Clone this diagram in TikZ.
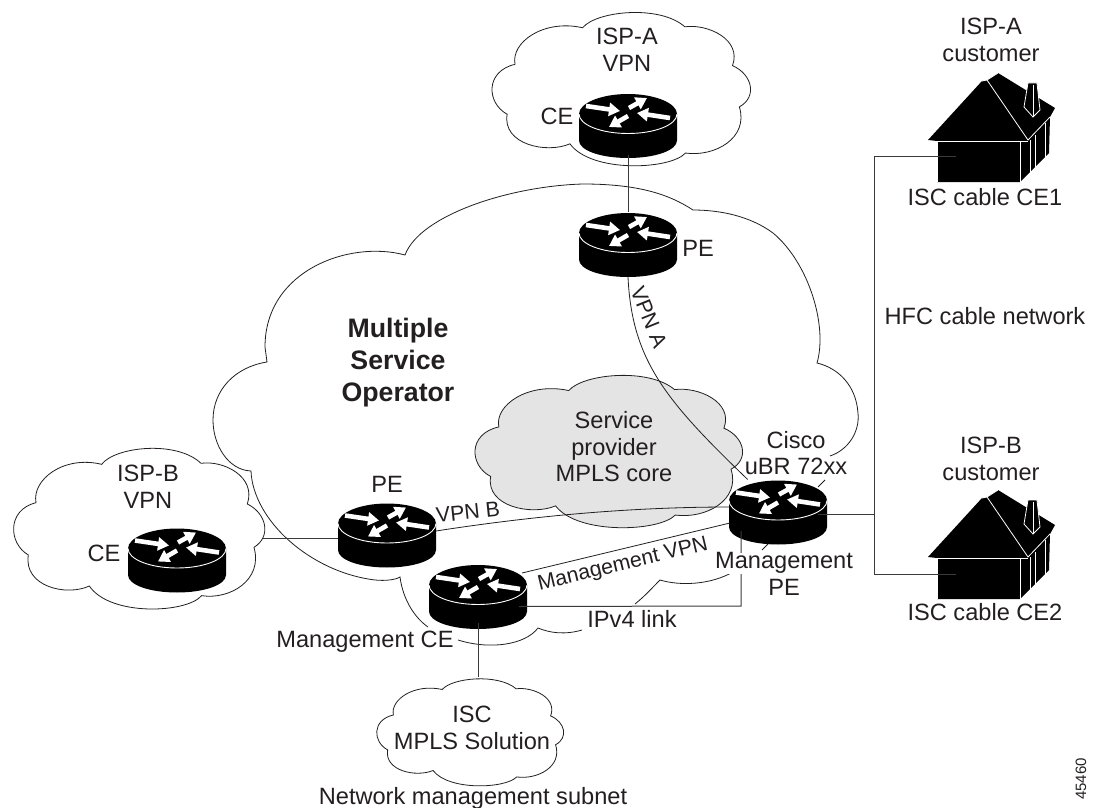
\documentclass[tikz,border=0pt]{standalone}
\usepackage{fontspec}
\setmainfont{Liberation Sans}
\usetikzlibrary{arrows.meta}
\definecolor{ink}{HTML}{231F20}
\definecolor{core}{HTML}{E4E4E4}
\definecolor{wire}{HTML}{3A3A3A}
\newcommand{\txtfont}{\fontsize{23.6}{26.5}\selectfont}
\newcommand{\smfont}{\fontsize{21.3}{26}\selectfont}
\newcommand{\cloudpath}{(108,218) .. controls (95,150) and (190,75) .. (305,103)
  .. controls (345,50) and (530,30) .. (603,100)
  .. controls (670,90) and (770,140) .. (742,222)
  .. controls (800,250) and (815,320) .. (762,352)
  .. controls (790,450) and (690,510) .. (605,497)
  .. controls (560,550) and (330,560) .. (268,468)
  .. controls (200,500) and (70,470) .. (85,375)
  .. controls (25,340) and (20,240) .. (108,218) -- cycle}
\newcommand{\routerat}[3]{%
  \node[routerbox] (#1) at (#2,#3) {};
  \begin{scope}[shift={(#2,#3)}]
    \fill[black] (-49,-11.5) .. controls (-49,-22.3) and (-27,-31.5) .. (0,-31.5)
      .. controls (27,-31.5) and (49,-22.3) .. (49,-11.5) -- (49,15)
      .. controls (49,25) and (27,32.5) .. (0,32.5)
      .. controls (-27,32.5) and (-49,25) .. (-49,15) -- cycle;
    \draw[white,line width=0.9pt] (-49,-11.5) .. controls (-49,-0.7) and (-27,8) .. (0,8)
      .. controls (27,8) and (49,-0.7) .. (49,-11.5);
    \draw[rarrow] (-42,-19.5) -- (-8,-14.5);
    \draw[rarrow] (1,-17.5) -- (19,-27.5);
    \draw[rarrow] (42,-7.5) -- (9,-12.5);
    \draw[rarrow] (0,-9.5) -- (-19,1.5);
  \end{scope}}
\newcommand{\houseat}[2]{%
  \begin{scope}[shift={(#1,#2)}]
    \fill[black] (928,140) -- (982,81) -- (987,80) -- (998,73) -- (1055,108) -- (1050,117)
      -- (1049,153) -- (1020,182) -- (937,182) -- (937,141) -- cycle;
    \draw[hline] (937,182) -- (937,141) -- (1020,141) -- (1020,182);
    \draw[hline] (928,141) -- (1028,141);
    \draw[hline] (982,81) -- (987,80) -- (1028,140) -- (1050,117);
    \draw[hline] (987,80) -- (998,73);
    \draw[hline] (1030,140) -- (1030,173);
    \draw[hline] (1035,135) -- (1035,173);
    \draw[hline] (1045,123) -- (1045,160);
    \filldraw[hline,fill=black] (1028,83) -- (1037,83) -- (1040,110) -- (1033,117) -- (1024,107) -- cycle;
    \draw[hline] (1033,85) -- (1033,117);
  \end{scope}}
\tikzset{
  routerbox/.style={minimum width=98pt,minimum height=65pt,inner sep=0pt,outer sep=0pt},
  rarrow/.style={white,line width=4.6pt,-{Triangle[length=11pt,width=13pt]}},
  hline/.style={white,line width=0.8pt},
  cloudline/.style={ink,line width=0.8pt},
  link/.style={wire,line width=1pt},
  lbl/.style={text=ink,font=\txtfont,align=center,inner sep=0pt},
}
\begin{document}
\begin{tikzpicture}[x=1pt,y=-1pt]
\useasboundingbox (0,0) rectangle (1096,808);
% clouds
\begin{scope}[shift={(460.5,358)},xscale=0.355,yscale=0.316]
  \filldraw[cloudline,fill=core] \cloudpath;
\end{scope}
\begin{scope}[shift={(0,430)},xscale=0.3333,yscale=0.3333]
  \draw[cloudline] \cloudpath;
\end{scope}
\begin{scope}[shift={(478,-5)},xscale=0.343,yscale=0.318]
  \draw[cloudline] \cloudpath;
\end{scope}
\begin{scope}[shift={(366.6,666.6)},xscale=0.248,yscale=0.222]
  \draw[cloudline] \cloudpath;
\end{scope}
% big cloud
\draw[cloudline] (830,456) .. controls (848,450) and (860,432) .. (858,413)
  .. controls (856,385) and (838,368) .. (817,363)
  .. controls (828,325) and (808,262) .. (773,233)
  .. controls (750,216) and (720,210) .. (693,210)
  .. controls (670,195) and (640,184) .. (583,184)
  .. controls (510,186) and (420,215) .. (405,255)
  .. controls (350,240) and (265,270) .. (265,347) -- (267,362)
  .. controls (235,367) and (213,390) .. (213,420)
  .. controls (213,445) and (228,470) .. (251,471)
  .. controls (253,520) and (310,572) .. (375,580)
  .. controls (385,581) and (395,580) .. (400,577)
  .. controls (403,600) and (415,618) .. (428,627);
\draw[cloudline] (458,640) .. controls (490,650) and (525,645) .. (538,628)
  .. controls (550,633) and (565,635) .. (582,630);
\draw[cloudline] (635,604) .. controls (645,596) and (652,588) .. (660,580)
  .. controls (680,586) and (710,585) .. (733,572);
\draw[cloudline] (762,550) -- (768,544);
\draw[cloudline] (818,487) -- (825,480);
% routers
\routerat{cea}{628}{125.5}
\routerat{pea}{628}{244.5}
\routerat{cisco}{778}{512}
\routerat{mce}{478}{596.5}
\routerat{peb}{387}{535}
\routerat{ceb}{177}{560}
% houses
\houseat{0}{0}
\houseat{0}{417}
% connector ends
\coordinate (hub) at (874,514);
\coordinate (hfctop) at (874,156);
\coordinate (hfcbot) at (874,574);
\coordinate (h1) at (956,156);
\coordinate (h2) at (956,574);
\coordinate (ciscoport) at (818,514);
\coordinate (iscport) at (478,677);
\coordinate (ipcorner) at (741,606);
\coordinate (ispbedge) at (263,538);
% connectors
\draw[link] (cea.south) ++(0,-3) -- (pea.north);
\draw[link] (ciscoport) -- (hub);
\draw[link] (h1) -- (hfctop) -- (hfcbot) -- (h2);
\draw[link] (ispbedge) -- (peb.west |- ispbedge);
\draw[cloudline] (pea.south) .. controls (632,360) and (665,400) .. (cisco.133);
\draw[cloudline] (peb.east) ++(0,-4) .. controls (520,518) and (620,507) .. (730,507);
\draw[cloudline] (mce.north east) ++(-5,9) -- (730,523);
\draw[link] (mce.east) ++(-8,10) -- (ipcorner) -- (741,531);
\draw[link] (mce.south) ++(0,-6) -- (iscport);
% labels
\node[lbl] (tispa) at (627,50) {ISP-A\\VPN};
\node[lbl] (tcea) at (557,116) {CE};
\node[lbl] (tpea) at (698,248) {PE};
\node[lbl,font=\smfont,rotate=-68] (tvpna) at (649,317) {VPN A};
\node[lbl,font=\fontsize{26.7}{32}\selectfont\bfseries] (tmso) at (398,363) {Multiple\\Service\\Operator};
\node[lbl] (tcore) at (614,447) {Service\\provider\\MPLS core};
\node[lbl] (tcisco) at (796,453) {Cisco\\uBR 72xx};
\node[lbl] (tmpe) at (784,574) {\setlength{\fboxsep}{0pt}\colorbox{white}{Management}\\PE};
\node[lbl] (tpeb) at (387,484) {PE};
\node[lbl,font=\smfont,rotate=6] (tvpnb) at (468,512) {VPN B};
\node[lbl] (tceb) at (104,553) {CE};
\node[lbl] (tispb) at (148,487) {ISP-B\\VPN};
\node[lbl,font=\smfont,rotate=13.5] (tmvpn) at (623,565) {Management VPN};
\node[lbl] (tmce) at (365,642) {Management CE};
\node[lbl] (tip) at (632,619) {IPv4 link};
\node[lbl] (tisc) at (472,728) {ISC\\MPLS Solution};
\node[lbl] (tnet) at (473,798) {Network management subnet};
\node[lbl] (tcusta) at (991,40) {ISP-A\\customer};
\node[lbl] (tce1) at (985,197) {ISC cable CE1};
\node[lbl] (thfc) at (985,316) {HFC cable network};
\node[lbl] (tcustb) at (991,459) {ISP-B\\customer};
\node[lbl] (tce2) at (985,612) {ISC cable CE2};
\node[lbl,rotate=90,font=\fontsize{15}{18}\selectfont] (tnum) at (1081,779) {45460};
\end{tikzpicture}
\end{document}
